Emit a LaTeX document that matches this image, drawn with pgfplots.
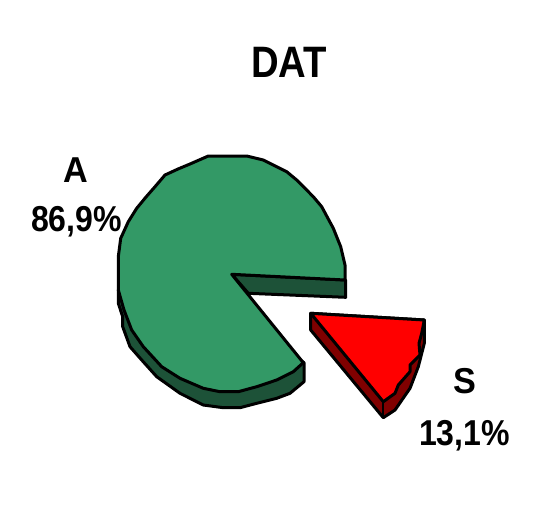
\documentclass[border=0pt]{standalone}
\usepackage{fontspec}
\setmainfont{Liberation Sans}
\usepackage{graphicx}
\usepackage{pgfplots}
\pgfplotsset{compat=1.18}
\definecolor{pietop}{HTML}{339966}
\definecolor{pieside}{HTML}{1D5238}
\definecolor{sliceside}{HTML}{800000}
\tikzset{lab/.style={font=\fontsize{36}{36}\selectfont\bfseries, inner sep=0pt, anchor=base}}
\begin{document}
\begin{tikzpicture}
  \path[use as bounding box] (0,0) rectangle (545pt,525pt);
  \begin{axis}[
    at={(0,0)}, anchor=south west,
    width=545pt, height=525pt, scale only axis,
    xmin=0, xmax=545, ymin=0, ymax=525, y dir=reverse,
    hide axis, clip=false,
    every axis plot/.append style={no markers, draw=black, line width=3pt, line join=round}]
    % rim of the big slice
    \addplot[fill=pieside] coordinates {
      (118.3,290) (118.3,303.3) (122.7,316.7) (122.7,326.7) (130,346.7) (141.7,360)
      (156.7,376.7) (180,393.3) (203.3,405) (223.3,407.7) (240,407.7) (256.7,403.3)
      (276.7,398.3) (290,393.3) (304,381.7) (304,362.7) (220,300)} -- cycle;
    \addplot[fill=pieside] coordinates {
      (231.7,274.3) (248.3,293.3) (345.7,297.3) (345.7,280)} -- cycle;
    % top of the big slice, A
    \addplot[fill=pietop] coordinates {
      (231.7,274.3) (345,280) (345,265) (340.7,246.7) (333.3,228.3) (321.7,206.7)
      (313.3,196.7) (296.7,180) (286.7,171.7) (263.3,160) (246.7,156) (208.3,156)
      (190,164) (178,169) (165,175) (155,186.7) (146,197) (136.7,208.3) (128.3,221.7) (120.7,238.3)
      (118.3,256.7) (118.3,290) (124,310) (131.7,330) (143.3,346.7) (161.7,366.7)
      (180,378.3) (203.3,388.3) (220,391.7) (238.3,391.7) (256.7,386.7) (276.7,380)
      (293.3,371.7) (303.3,362.7)} -- cycle;
    % rim of the small slice
    \addplot[fill=sliceside] coordinates {
      (310.7,313.3) (310.7,330) (383.3,417.7) (395,410) (410,388.3) (418.3,366.7)
      (424.3,343.3) (424.3,320)} -- cycle;
    \addplot[no markers, line width=2pt] coordinates {(383.3,401.7) (383.3,417.7)};
    % top of the small slice, S
    \addplot[fill=red] coordinates {
      (310.7,313.3) (424.3,320) (421.7,333.3) (419,343.3) (420,355) (410,365)
      (410,371.7) (398.3,385) (395,393.3) (383.3,401.7)} -- cycle;

    \node[lab, font=\fontsize{44}{44}\selectfont\bfseries] at (axis cs:289,77) {\scalebox{.87}[1]{DAT}};
    \node[lab] at (axis cs:75.5,182) {\scalebox{.95}[1]{A}};
    \node[lab] at (axis cs:76.5,231) {\scalebox{.89}[1]{86,9\%}};
    \node[lab] at (axis cs:465,393) {\scalebox{.95}[1]{S}};
    \node[lab] at (axis cs:464.5,445) {\scalebox{.89}[1]{13,1\%}};
  \end{axis}
\end{tikzpicture}
\end{document}
